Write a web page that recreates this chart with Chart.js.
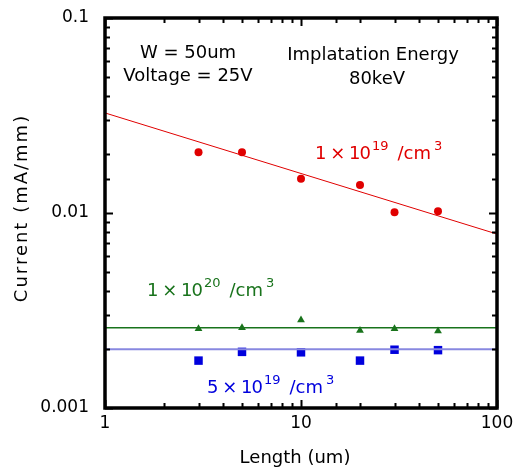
<!DOCTYPE html>
<html lang="en">
<head>
  <meta charset="UTF-8" />
  <title>Current vs Length</title>
  <script src="https://cdn.jsdelivr.net/npm/chart.js"></script>
  <style>
    html, body { margin: 0; padding: 0; background: #fff; }
    #wrap { width: 518px; height: 475px; }
  </style>
</head>
<body>
<div id="wrap"><canvas id="chart" width="518" height="475"></canvas></div>
<script>
  // measured data
  const lengths = [3, 5, 10, 20, 30, 50];
  const dose1e19 = [0.0205, 0.0205, 0.0150, 0.0139, 0.0101, 0.0102];
  const dose1e20 = [0.00255, 0.00258, 0.00283, 0.00250, 0.00255, 0.00248];
  const dose5e19 = [0.00175, 0.00194, 0.00193, 0.00175, 0.00199, 0.00198];

  // fitted lines (endpoints at x = 1 and x = 100)
  const fitX = [1, 100];
  const fit1e19 = [0.0326, 0.0078];
  const fit1e20 = [0.00258, 0.00258];
  const fit5e19 = [0.00200, 0.00200];

  const xTicks = [1, 10, 100];
  const yTicks = [0.001, 0.01, 0.1];

  const FONT = '"DejaVu Sans", "Noto Sans", sans-serif';
  const RED = '#e00000', GREEN = '#19731c', BLUE = '#0000dd';

  const pts = (xs, ys) => xs.map((x, i) => ({ x: x, y: ys[i] }));
  const isDecade = v => Math.abs(Math.log10(v) - Math.round(Math.log10(v))) < 1e-6;

  // inward ticks on all four sides + heavy frame
  const frame = {
    id: 'frame',
    afterDatasetsDraw(chart) {
      const { ctx, chartArea: a } = chart;
      const xs = chart.scales.x, ys = chart.scales.y;
      ctx.save();
      ctx.strokeStyle = '#000';
      ctx.lineWidth = 2;
      xs.ticks.forEach(t => {
        const p = Math.round(xs.getPixelForValue(t.value)) + 0.5;
        const len = isDecade(t.value) ? 8 : 5;
        ctx.beginPath();
        ctx.moveTo(p, a.bottom); ctx.lineTo(p, a.bottom - len);
        ctx.moveTo(p, a.top); ctx.lineTo(p, a.top + len);
        ctx.stroke();
      });
      ys.ticks.forEach(t => {
        const p = Math.round(ys.getPixelForValue(t.value)) + 0.5;
        const len = isDecade(t.value) ? 8 : 5;
        ctx.beginPath();
        ctx.moveTo(a.left, p); ctx.lineTo(a.left + len, p);
        ctx.moveTo(a.right, p); ctx.lineTo(a.right - len, p);
        ctx.stroke();
      });
      ctx.lineWidth = 3.5;
      ctx.strokeRect(a.left, a.top, a.right - a.left, a.bottom - a.top);
      ctx.restore();
    }
  };

  // "m x 10^e /cm^3" style labels
  function sci(ctx, x, y, mant, exp, unitExp, color) {
    ctx.fillStyle = color;
    ctx.textAlign = 'left';
    ctx.textBaseline = 'middle';
    ctx.font = '18px ' + FONT;
    let s = mant + ' \u00d7 10';
    ctx.letterSpacing = '-1px';
    ctx.fillText(s, x, y);
    x += ctx.measureText(s).width + 2;
    ctx.letterSpacing = '0px';
    ctx.font = '13px ' + FONT;
    ctx.fillText(exp, x, y - 7);
    x += ctx.measureText(exp).width + 9;
    ctx.font = '18px ' + FONT;
    ctx.fillText('/cm', x, y);
    x += ctx.measureText('/cm').width + 3;
    ctx.font = '13px ' + FONT;
    ctx.fillText(unitExp, x, y - 7);
  }

  const notes = {
    id: 'notes',
    afterDraw(chart) {
      const ctx = chart.ctx;
      ctx.save();
      ctx.fillStyle = '#000';
      ctx.textAlign = 'center';
      ctx.textBaseline = 'middle';
      ctx.font = '18px ' + FONT;
      ctx.fillText('W = 50um', 188, 53);
      ctx.fillText('Voltage = 25V', 188, 76);
      ctx.fillText('Implatation Energy', 373, 55);
      ctx.fillText('80keV', 377, 79);
      sci(ctx, 315, 154, '1', '19', '3', RED);
      sci(ctx, 147, 291, '1', '20', '3', GREEN);
      sci(ctx, 207, 388, '5', '19', '3', BLUE);

      // axis titles
      ctx.fillStyle = '#000';
      ctx.textAlign = 'center';
      ctx.font = '18px ' + FONT;
      ctx.fillText('Length (um)', 295, 458);
      ctx.translate(22, 208);
      ctx.rotate(-Math.PI / 2);
      ctx.textAlign = 'left';
      ctx.letterSpacing = '2px';
      const yt = 'Current (mA/mm)';
      ctx.fillText(yt, -ctx.measureText(yt).width / 2, 0);
      ctx.restore();
    }
  };

  new Chart(document.getElementById('chart'), {
    type: 'scatter',
    data: {
      datasets: [
        { type: 'line', data: pts(fitX, fit1e19), borderColor: RED, borderWidth: 1, pointRadius: 0 },
        { type: 'line', data: pts(fitX, fit1e20), borderColor: GREEN, borderWidth: 1.4, pointRadius: 0 },
        { type: 'line', data: pts(fitX, fit5e19), borderColor: '#8888e0', borderWidth: 2, pointRadius: 0 },
        { data: pts(lengths, dose1e19), pointStyle: 'circle', pointRadius: 4, backgroundColor: RED, borderColor: RED, borderWidth: 0 },
        { data: pts(lengths, dose1e20), pointStyle: 'triangle', pointRadius: 4.5, backgroundColor: GREEN, borderColor: GREEN, borderWidth: 0 },
        { data: pts(lengths, dose5e19), pointStyle: 'rect', pointRadius: 6, backgroundColor: BLUE, borderColor: BLUE, borderWidth: 0 }
      ]
    },
    options: {
      responsive: false,
      animation: false,
      layout: { padding: { left: 0, right: 21, top: 18, bottom: 0 } },
      plugins: { legend: { display: false }, tooltip: { enabled: false } },
      scales: {
        x: {
          type: 'logarithmic', min: 1, max: 100,
          grid: { display: false, drawTicks: false },
          border: { display: false },
          ticks: {
            color: '#000', font: { family: FONT, size: 17 }, padding: 5, maxRotation: 0, autoSkip: false,
            callback: v => xTicks.includes(v) ? String(v) : ''
          },
          afterFit: s => { s.height = 67; s.paddingLeft = 0; s.paddingRight = 0; }
        },
        y: {
          type: 'logarithmic', min: 0.001, max: 0.1,
          grid: { display: false, drawTicks: false },
          border: { display: false },
          ticks: {
            color: '#000', font: { family: FONT, size: 17 }, padding: 16, autoSkip: false,
            callback: v => yTicks.some(t => Math.abs(t - v) < t * 1e-6) ? String(v) : ''
          },
          afterFit: s => { s.width = 105; s.paddingTop = 0; s.paddingBottom = 0; }
        }
      }
    },
    plugins: [frame, notes]
  });
</script>
</body>
</html>
